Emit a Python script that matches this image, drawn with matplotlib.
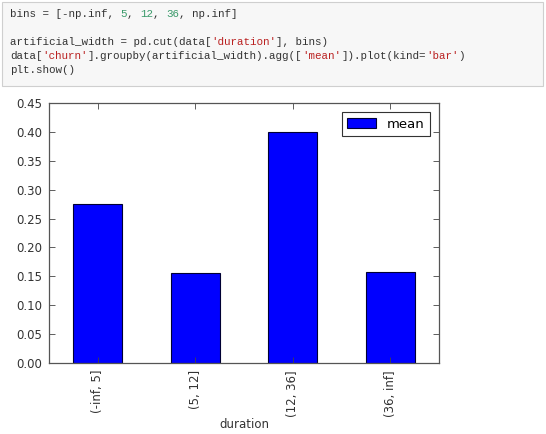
import matplotlib
matplotlib.use("Agg")
import matplotlib.pyplot as plt
from matplotlib.patches import Rectangle

categories = ["(-inf, 5]", "(5, 12]", "(12, 36]", "(36, inf]"]
mean_values = [0.275, 0.155, 0.400, 0.158]
y_ticks = [0.00, 0.05, 0.10, 0.15, 0.20, 0.25, 0.30, 0.35, 0.40, 0.45]

code_lines = [
    [("bins = [-np.inf, ", "k"), ("5", "n"), (", ", "k"), ("12", "n"), (", ", "k"), ("36", "n"), (", np.inf]", "k")],
    [],
    [("artificial_width = pd.cut(data[", "k"), ("'duration'", "s"), ("], bins)", "k")],
    [("data[", "k"), ("'churn'", "s"), ("].groupby(artificial_width).agg([", "k"), ("'mean'", "s"), ("]).plot(kind=", "k"), ("'bar'", "s"), (")", "k")],
    [("plt.show()", "k")],
]
code_colors = {"k": "#333333", "n": "#3a9a6a", "s": "#ba2121"}

W, H, DPI = 546, 434, 100
fig = plt.figure(figsize=(W / DPI, H / DPI), dpi=DPI)
fig.patch.set_facecolor("white")

# code cell
fig.patches.append(Rectangle((2 / W, 1 - 86 / H), 541 / W, 84 / H, transform=fig.transFigure,
                             facecolor="#f7f7f7", edgecolor="#cfcfcf", lw=0.8))
fs_code = 7.8
char_w = 0.6 * fs_code * DPI / 72.0
line_y = [14, 28, 42, 56, 70]
for ln, yy in zip(code_lines, line_y):
    col = 0
    for seg, kind in ln:
        fig.text((10 + col * char_w) / W, 1 - yy / H, seg, family="Liberation Mono",
                 fontsize=fs_code, color=code_colors[kind], va="center", ha="left")
        col += len(seg)

ax = fig.add_axes([49 / W, 1 - 363 / H, 390 / W, 260 / H])
x = list(range(len(categories)))
ax.bar(x, mean_values, width=0.5, color="#0000ff", edgecolor="#000033", lw=0.8, label="mean")
ax.set_xlim(-0.5, len(categories) - 0.5)
ax.set_ylim(0, 0.45)
ax.set_yticks(y_ticks)
ax.set_yticklabels([f"{v:.2f}" for v in y_ticks])
ax.set_xticks(x)
ax.set_xticklabels(categories, rotation=90)
ax.tick_params(direction="in", top=True, right=True, length=4, width=0.6,
               labelsize=8.5, labelcolor="#333333", color="#444444", pad=5)
for s in ax.spines.values():
    s.set_color("#555555")
    s.set_linewidth(0.9)
ax.set_xlabel("duration", fontsize=8.5, color="#333333", labelpad=1)
leg = ax.legend(loc="upper right", fontsize=9.5, fancybox=False, framealpha=1,
                edgecolor="#333333", handlelength=2.2, borderpad=0.4, borderaxespad=0.7)
leg.get_frame().set_linewidth(0.8)

fig.savefig("out.png", dpi=DPI)
